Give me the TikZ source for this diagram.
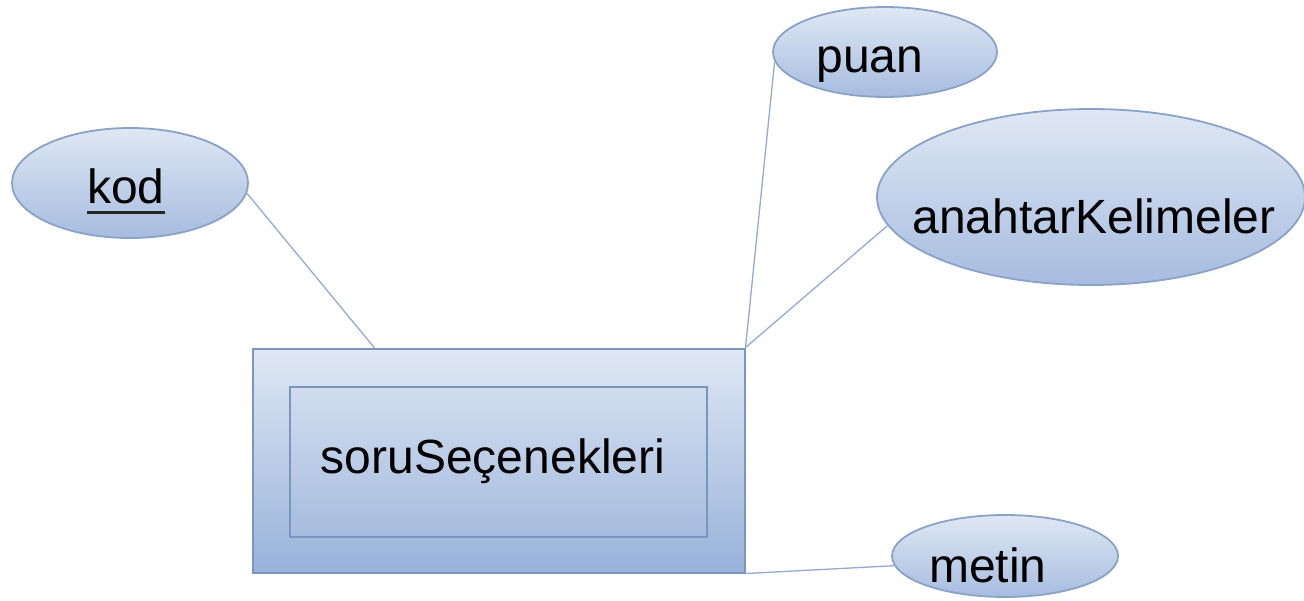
\documentclass[tikz,border=0pt]{standalone}
\usepackage{fontspec}
\setmainfont{Liberation Sans}
\usetikzlibrary{shapes.geometric,calc}
\definecolor{edgeblue}{HTML}{8AA2C8}
\definecolor{boxblue}{HTML}{7C95BF}
\definecolor{linkblue}{HTML}{94AAD0}
\definecolor{fillTop}{HTML}{DFE8F4}
\definecolor{fillBot}{HTML}{A6BCDF}
\definecolor{boxBot}{HTML}{98B2DA}
\begin{document}
\begin{tikzpicture}[x=1pt,y=-1pt,
  attr/.style={ellipse,draw=edgeblue,line width=1.8pt,top color=fillTop,bottom color=fillBot,inner sep=0pt},
  entbox/.style={rectangle,draw=boxblue,line width=2pt,top color=fillTop,bottom color=boxBot,inner sep=0pt},
  innerbox/.style={rectangle,draw=boxblue,line width=2pt,top color=fillTop!75!fillBot,bottom color=fillBot,inner sep=0pt},
  lbl/.style={anchor=base,inner sep=0pt,font=\fontsize{48}{56}\selectfont,text=black},
  link/.style={draw=linkblue,line width=1.3pt}]
\useasboundingbox (0,0) rectangle (1304,600);
% entity
\node[entbox,minimum width=492pt,minimum height=224pt] (outer) at (498.5,460.5) {};
\node[innerbox,minimum width=417pt,minimum height=150pt] (inner) at (498.5,462) {};
\node[lbl] (sorut) at (493,473) {soruSeçenekleri};
% attributes
\node[attr,minimum width=236pt,minimum height=110pt] (kod) at (130,183) {};
\node[attr,minimum width=224pt,minimum height=90pt] (puan) at (885,52) {};
\node[attr,minimum width=428pt,minimum height=176pt] (anahtar) at (1091,197) {};
\node[attr,minimum width=226pt,minimum height=82pt] (metin) at (1005,556) {};
\node[lbl] (kodt) at (126,203) {kod};
\draw[line width=3pt,black!85] ([yshift=-9pt]kodt.base west) -- ([yshift=-9pt]kodt.base east);
\node[lbl] (puant) at (870,72) {puan};
\node[lbl] (anahtart) at (1094,233) {anahtarKelimeler};
\node[lbl] (metint) at (988,582) {metin};
% connectors
\coordinate (kodend) at (375,348.5);
\draw[link] (kod.-5) -- (kodend);
\draw[link] (puan.185) -- (outer.north east);
\draw[link] (anahtar.188) -- (outer.north east);
\draw[link] (metin.185) -- (outer.south east);
\end{tikzpicture}
\end{document}
